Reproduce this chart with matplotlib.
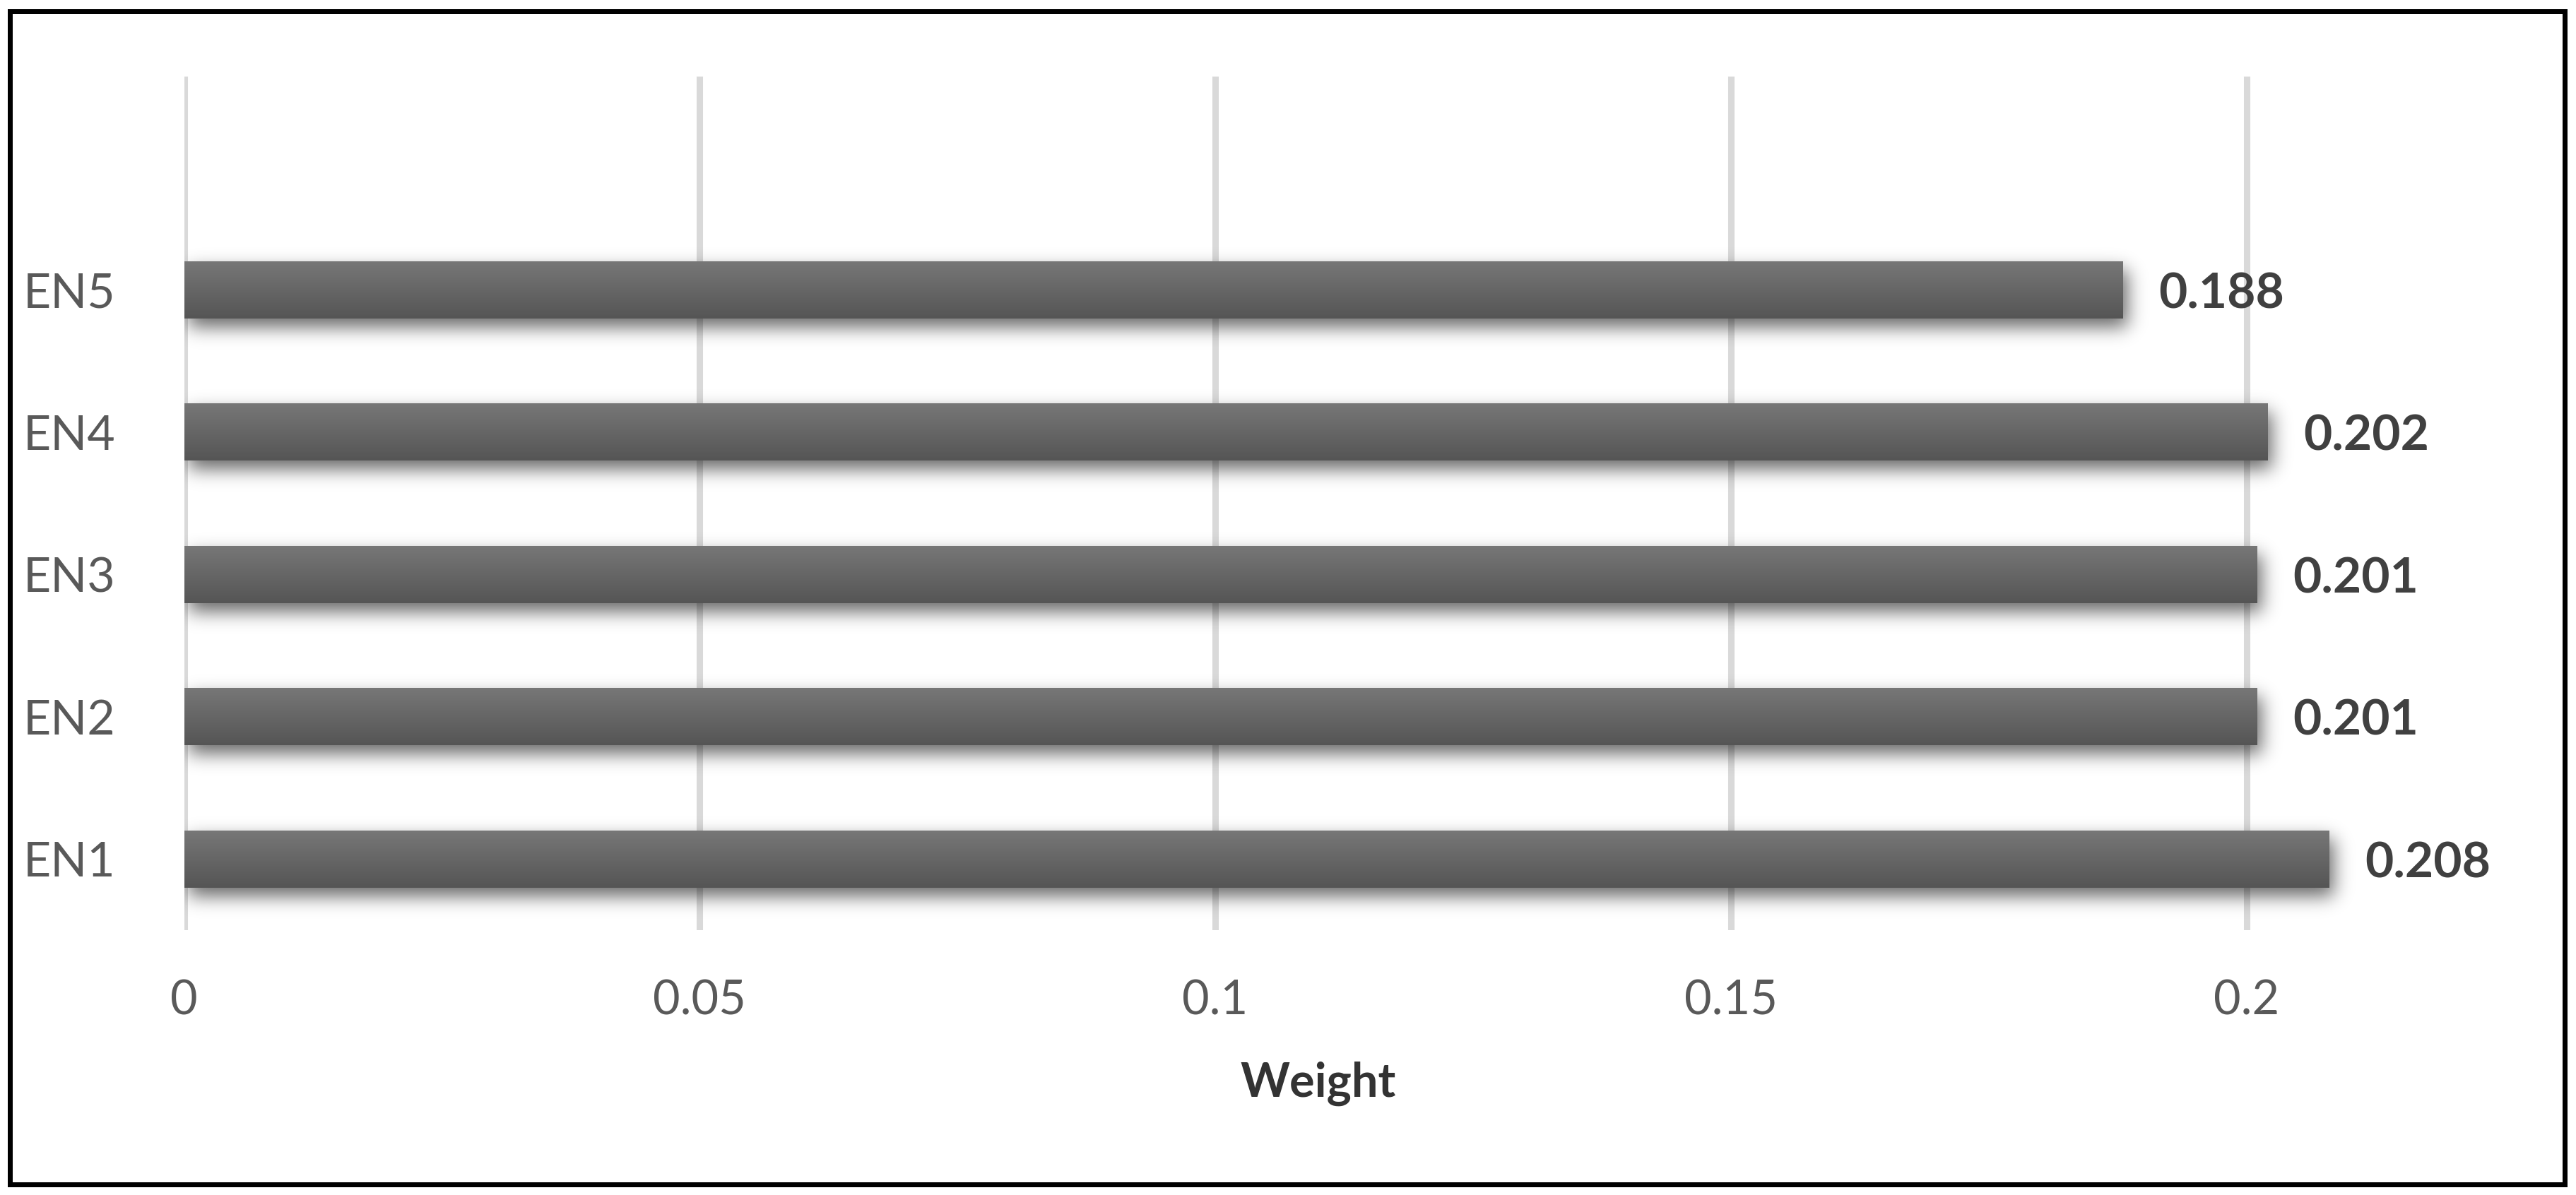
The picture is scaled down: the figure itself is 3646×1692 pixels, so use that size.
import math
import numpy as np
import matplotlib
matplotlib.use("Agg")
import matplotlib.pyplot as plt
from matplotlib.patches import Rectangle
from matplotlib.colors import LinearSegmentedColormap

# ---- data ----
categories = ["EN1", "EN2", "EN3", "EN4", "EN5"]
weights = [0.208, 0.201, 0.201, 0.202, 0.188]
x_ticks = [0, 0.05, 0.1, 0.15, 0.2]
x_tick_labels = ["0", "0.05", "0.1", "0.15", "0.2"]
x_label = "Weight"

plt.rcParams['font.family'] = ['Lato', 'DejaVu Sans']

W, H, DPI = 3646, 1692, 100
fig = plt.figure(figsize=(W / DPI, H / DPI), dpi=DPI, facecolor="white")

ax_l, ax_r, ax_t, ax_b = 260.5, 3471.5, 108, 1317
ax = fig.add_axes([ax_l / W, 1 - ax_b / H, (ax_r - ax_l) / W, (ax_b - ax_t) / H])
xmax = 0.22
ylo, yhi = -0.5, 5.5

pos = np.arange(len(categories))
bar_h = 0.4
bars = ax.barh(pos, weights, height=bar_h, color="#636363", linewidth=0, zorder=3)

# pixel -> data conversions
px_x = xmax / (ax_r - ax_l)
px_y = (yhi - ylo) / (ax_b - ax_t)

# shadows (blurred, offset down-right)
sig, dxp, dyp, peak = 13.0, 6.0, 12.0, 0.6
verf = np.vectorize(math.erf)
for b in bars:
    x0, x1 = b.get_x(), b.get_x() + b.get_width()
    y0, y1 = b.get_y(), b.get_y() + b.get_height()
    wpx = (x1 - x0) / px_x
    hpx = (y1 - y0) / px_y
    m = 4 * sig
    xs = np.arange(-m, wpx + m, 1.0) + 0.5
    ys = np.arange(-m, hpx + m, 1.0) + 0.5
    s2 = math.sqrt(2) * sig
    axp = 0.5 * (verf((xs - dxp) / s2) - verf((xs - dxp - wpx) / s2))
    # y measured upward from bar bottom; shadow shifted down by dyp
    ayp = 0.5 * (verf((ys + dyp) / s2) - verf((ys + dyp - hpx) / s2))
    alpha = np.outer(ayp, axp) * peak
    img = np.zeros(alpha.shape + (4,))
    img[..., 3] = alpha
    ax.imshow(img, extent=[x0 - m * px_x, x0 + (xs[-1] + 0.5) * px_x,
                           y0 - m * px_y, y0 + (ys[-1] + 0.5) * px_y],
              origin="lower", aspect="auto", zorder=2, interpolation="bilinear")

# gradient fill on bars
cmap = LinearSegmentedColormap.from_list("barg", ["#555555", "#777777"])
grad = np.linspace(0, 1, 256).reshape(-1, 1)
for b in bars:
    x0, x1 = b.get_x(), b.get_x() + b.get_width()
    y0, y1 = b.get_y(), b.get_y() + b.get_height()
    ax.imshow(grad, extent=[x0, x1, y0, y1], origin="lower", cmap=cmap,
              aspect="auto", zorder=4, interpolation="bilinear")

ax.set_xlim(0, xmax)
ax.set_ylim(ylo, yhi)

# gridlines
ax.set_xticks(x_ticks)
ax.set_xticklabels(x_tick_labels)
ax.grid(axis="x", color="#D9D9D9", linewidth=6.5, zorder=1)
ax.set_axisbelow(True)
for gl in ax.get_xgridlines():
    gl.set_solid_capstyle("butt")

ax.set_yticks(pos)
ax.set_yticklabels(categories)
for s in ax.spines.values():
    s.set_visible(False)
ax.tick_params(axis="x", length=0, labelsize=48, colors="#595959", pad=50)
ax.tick_params(axis="y", length=0, labelsize=49, colors="#595959", pad=70)

# data labels
for p, v in zip(pos, weights):
    ax.annotate(f"{v:.3f}", xy=(v, p), xytext=(51 * 0.72, -26 * 0.72),
                textcoords="offset points", ha="left", va="baseline",
                fontsize=50, fontweight="bold", color="#404040", zorder=5)

ax.set_xlabel(x_label, fontsize=48, fontweight="bold", color="#333333")
ax.xaxis.set_label_coords(0.5, -(1553 - ax_b) / (ax_b - ax_t))
ax.xaxis.label.set_va("baseline")

# outer border
border = Rectangle((13.5 / W, 1 - 1677 / H), (3629.5 - 13.5) / W, (1677 - 16.5) / H,
                   transform=fig.transFigure, fill=False, edgecolor="black",
                   linewidth=7 * 0.72)
fig.add_artist(border)

fig.savefig("out.png", dpi=DPI, facecolor="white")
